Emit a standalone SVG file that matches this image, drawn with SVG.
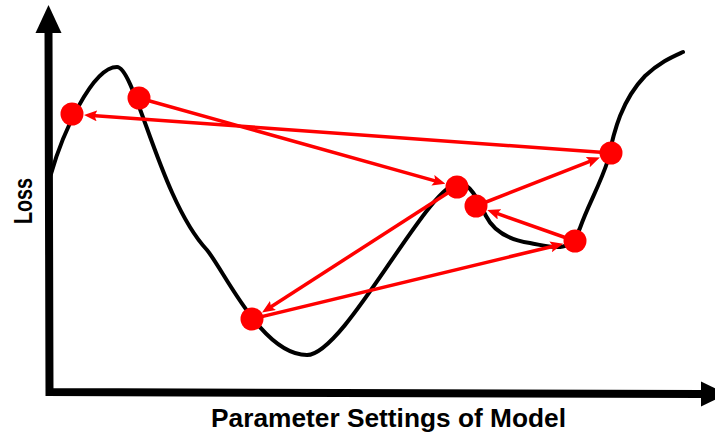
<svg xmlns="http://www.w3.org/2000/svg" width="715" height="434" viewBox="0 0 715 434">
<style>
.axis{fill:none;stroke:#000;stroke-width:8;stroke-linejoin:miter}
.curve{fill:none;stroke:#000;stroke-width:4;stroke-linecap:round;stroke-linejoin:round}
.conn{fill:none;stroke:#ff0000;stroke-width:3.5}
.pt{fill:#ff0000}
.lbl{font-family:"Liberation Sans",Arial,sans-serif;font-weight:bold;font-size:26px;fill:#000}
</style>
<defs>
<marker id="ah" viewBox="0 0 13 11" markerWidth="13" markerHeight="11" refX="5" refY="5.5" orient="auto" markerUnits="userSpaceOnUse">
<path d="M0,0 L13,5.5 L0,11 L2.5,5.5 z" fill="#ff0000"/>
</marker>
</defs>
<g id="axes">
<path class="axis" d="M48.5,30 L49.5,392 L702,394"/>
<polygon points="35.5,33 61.5,33 48.5,5" fill="#000"/>
<polygon points="701,381.5 701,406.5 727,394" fill="#000"/>
</g>
<g id="loss-curve">
<path class="curve" d="M51,174 C62,135 92,67 117,67 C135,67 160,200 207,250 C225,272 262,355 307,355 C345,355 428,183 459,183 C470,183 478,200 486,216 C494,232 510,240 530,243 C552,247 570,255 580,228 C588,205 600,185 608,160 C614,130 622,100 645,76 C660,62 672,57 683,52"/>
</g>
<g id="connectors">
<line class="conn" x1="139" y1="98" x2="437.7" y2="181.6" marker-end="url(#ah)"/>
<line class="conn" x1="457" y1="187" x2="268.8" y2="308.2" marker-end="url(#ah)"/>
<line class="conn" x1="252" y1="319" x2="555.5" y2="245.7" marker-end="url(#ah)"/>
<line class="conn" x1="575" y1="241" x2="494.8" y2="212.7" marker-end="url(#ah)"/>
<line class="conn" x1="476" y1="206" x2="592.4" y2="160.3" marker-end="url(#ah)"/>
<line class="conn" x1="611" y1="153" x2="92" y2="115.5" marker-end="url(#ah)"/>
</g>
<g id="p1"><circle class="pt" cx="72" cy="114" r="11.5"/></g>
<g id="p2"><circle class="pt" cx="139" cy="98" r="11.5"/></g>
<g id="p3"><circle class="pt" cx="457" cy="187" r="11.5"/></g>
<g id="p4"><circle class="pt" cx="476" cy="206" r="11.5"/></g>
<g id="p5"><circle class="pt" cx="575" cy="241" r="11.5"/></g>
<g id="p6"><circle class="pt" cx="611" cy="153" r="11.5"/></g>
<g id="p7"><circle class="pt" cx="252" cy="319" r="11.5"/></g>
<g id="y-label"><text class="lbl" transform="translate(32,201) rotate(-90)" text-anchor="middle" textLength="46" lengthAdjust="spacingAndGlyphs">Loss</text></g>
<g id="x-label"><text class="lbl" x="388.5" y="427" text-anchor="middle" textLength="355" lengthAdjust="spacingAndGlyphs">Parameter Settings of Model</text></g>
</svg>
